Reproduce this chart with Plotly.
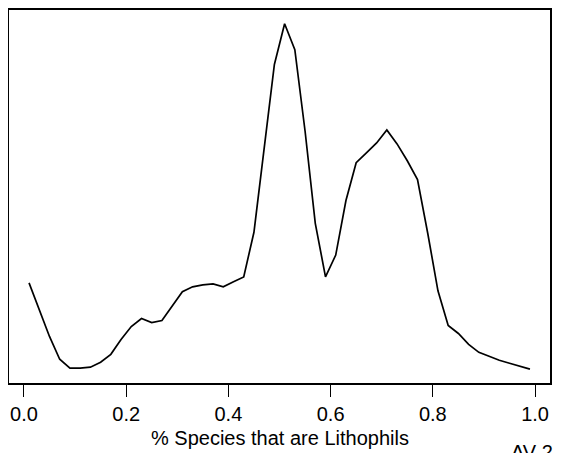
import plotly.graph_objects as go

# bin midpoints of the fraction of lithophil species
frac = [0.01 + 0.02 * i for i in range(50)]
density = [1.01, 0.74, 0.47, 0.24, 0.15, 0.15, 0.16, 0.21, 0.29, 0.44,
           0.57, 0.65, 0.61, 0.63, 0.78, 0.92, 0.97, 0.99, 1.00, 0.97,
           1.02, 1.07, 1.52, 2.38, 3.21, 3.62, 3.36, 2.54, 1.61, 1.07,
           1.29, 1.84, 2.22, 2.32, 2.42, 2.55, 2.41, 2.24, 2.05, 1.51,
           0.93, 0.58, 0.50, 0.39, 0.31, 0.27, 0.23, 0.20, 0.17, 0.14]
xticks = [0.0, 0.2, 0.4, 0.6, 0.8, 1.0]
xticklabels = ["0.0", "0.2", "0.4", "0.6", "0.8", "1.0"]

FONT = "Liberation Sans, Arial, sans-serif"

# R-style 4% padding on both axes
xpad = (max(frac) - min(frac)) * 0.04
ypad = (max(density) - min(density)) * 0.04

fig = go.Figure()
fig.add_trace(go.Scatter(x=frac, y=density, mode="lines",
                         line=dict(color="black", width=1.7),
                         showlegend=False, hoverinfo="skip"))

# the page body has an 8px margin, so the figure is 8px smaller
fig.update_layout(
    width=553, height=445,
    margin=dict(l=1, r=11, t=0, b=70),
    paper_bgcolor="white", plot_bgcolor="white",
    font=dict(family=FONT, size=20, color="black"),
    xaxis=dict(range=[min(frac) - xpad, max(frac) + xpad],
               tickvals=xticks, ticktext=xticklabels,
               ticks="outside", ticklen=12, tickwidth=1.3, tickcolor="black",
               showline=True, linecolor="black", linewidth=1.5, mirror=True,
               showgrid=False, zeroline=False, ticklabelstandoff=0),
    yaxis=dict(range=[min(density) - ypad, max(density) + ypad],
               showticklabels=False, ticks="",
               showline=True, linecolor="black", linewidth=1.5, mirror=True,
               showgrid=False, zeroline=False),
    annotations=[
        dict(text="% Species that are Lithophils", xref="paper", yref="paper",
             x=0.5, y=-0.112, xanchor="center", yanchor="top",
             showarrow=False, font=dict(size=20)),
        dict(text="AV 2", xref="paper", yref="paper",
             x=0.925, y=-0.149, xanchor="left", yanchor="top",
             showarrow=False, font=dict(size=20)),
    ],
)

fig.write_html("out.html")
